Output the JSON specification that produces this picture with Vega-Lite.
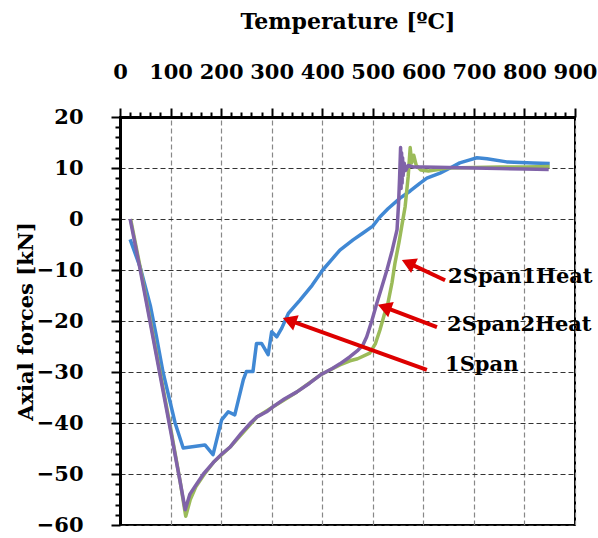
{
  "$schema": "https://vega.github.io/schema/vega-lite/v6.json",
  "width": 455,
  "height": 408,
  "autosize": "none",
  "padding": {"left": 120, "top": 117, "right": 23, "bottom": 13},
  "background": "white",
  "config": {
    "view": {"stroke": "black", "strokeWidth": 2},
    "font": "DejaVu Serif"
  },
  "datasets": {
    "curves": [
      {"series": "1Span", "t": 20, "f": -4},
      {"series": "1Span", "t": 40, "f": -9.5},
      {"series": "1Span", "t": 60, "f": -17},
      {"series": "1Span", "t": 72, "f": -23},
      {"series": "1Span", "t": 85, "f": -30},
      {"series": "1Span", "t": 97, "f": -35},
      {"series": "1Span", "t": 109, "f": -40},
      {"series": "1Span", "t": 125, "f": -44.9},
      {"series": "1Span", "t": 168, "f": -44.3},
      {"series": "1Span", "t": 184, "f": -46.2},
      {"series": "1Span", "t": 201, "f": -39.4},
      {"series": "1Span", "t": 214, "f": -37.8},
      {"series": "1Span", "t": 227, "f": -38.4},
      {"series": "1Span", "t": 244, "f": -31.5},
      {"series": "1Span", "t": 250, "f": -29.9},
      {"series": "1Span", "t": 263, "f": -29.9},
      {"series": "1Span", "t": 270, "f": -24.4},
      {"series": "1Span", "t": 280, "f": -24.4},
      {"series": "1Span", "t": 293, "f": -26.6},
      {"series": "1Span", "t": 300, "f": -22.1},
      {"series": "1Span", "t": 310, "f": -23.1},
      {"series": "1Span", "t": 320, "f": -21.4},
      {"series": "1Span", "t": 333, "f": -18.5},
      {"series": "1Span", "t": 356, "f": -15.9},
      {"series": "1Span", "t": 380, "f": -13},
      {"series": "1Span", "t": 401, "f": -10},
      {"series": "1Span", "t": 420, "f": -7.8},
      {"series": "1Span", "t": 435, "f": -6.1},
      {"series": "1Span", "t": 461, "f": -4.1},
      {"series": "1Span", "t": 480, "f": -2.8},
      {"series": "1Span", "t": 500, "f": -1.4},
      {"series": "1Span", "t": 514, "f": 0.4},
      {"series": "1Span", "t": 530, "f": 2},
      {"series": "1Span", "t": 554, "f": 4.1},
      {"series": "1Span", "t": 574, "f": 5.5},
      {"series": "1Span", "t": 593, "f": 7},
      {"series": "1Span", "t": 607, "f": 8},
      {"series": "1Span", "t": 633, "f": 9},
      {"series": "1Span", "t": 653, "f": 10},
      {"series": "1Span", "t": 672, "f": 11},
      {"series": "1Span", "t": 692, "f": 11.6},
      {"series": "1Span", "t": 706, "f": 12},
      {"series": "1Span", "t": 726, "f": 11.8},
      {"series": "1Span", "t": 765, "f": 11.2},
      {"series": "1Span", "t": 817, "f": 11},
      {"series": "1Span", "t": 850, "f": 10.9},

      {"series": "2Span1Heat", "t": 21, "f": 0},
      {"series": "2Span1Heat", "t": 41, "f": -10},
      {"series": "2Span1Heat", "t": 61, "f": -20.5},
      {"series": "2Span1Heat", "t": 81, "f": -31},
      {"series": "2Span1Heat", "t": 101, "f": -41.5},
      {"series": "2Span1Heat", "t": 119, "f": -51.5},
      {"series": "2Span1Heat", "t": 130, "f": -58.3},
      {"series": "2Span1Heat", "t": 139, "f": -55},
      {"series": "2Span1Heat", "t": 150, "f": -52.5},
      {"series": "2Span1Heat", "t": 167, "f": -50},
      {"series": "2Span1Heat", "t": 186, "f": -47.6},
      {"series": "2Span1Heat", "t": 220, "f": -44.5},
      {"series": "2Span1Heat", "t": 271, "f": -38.8},
      {"series": "2Span1Heat", "t": 303, "f": -36.8},
      {"series": "2Span1Heat", "t": 350, "f": -33.9},
      {"series": "2Span1Heat", "t": 396, "f": -30.6},
      {"series": "2Span1Heat", "t": 435, "f": -28.6},
      {"series": "2Span1Heat", "t": 455, "f": -27.8},
      {"series": "2Span1Heat", "t": 470, "f": -27.4},
      {"series": "2Span1Heat", "t": 494, "f": -26.3},
      {"series": "2Span1Heat", "t": 505, "f": -24.5},
      {"series": "2Span1Heat", "t": 514, "f": -21.8},
      {"series": "2Span1Heat", "t": 522, "f": -19},
      {"series": "2Span1Heat", "t": 530, "f": -16.5},
      {"series": "2Span1Heat", "t": 538, "f": -12.5},
      {"series": "2Span1Heat", "t": 544, "f": -8.6},
      {"series": "2Span1Heat", "t": 552, "f": -4.5},
      {"series": "2Span1Heat", "t": 558, "f": -1},
      {"series": "2Span1Heat", "t": 564, "f": 2.4},
      {"series": "2Span1Heat", "t": 570, "f": 8.3},
      {"series": "2Span1Heat", "t": 574, "f": 14},
      {"series": "2Span1Heat", "t": 577, "f": 11},
      {"series": "2Span1Heat", "t": 581, "f": 12.5},
      {"series": "2Span1Heat", "t": 586, "f": 10.5},
      {"series": "2Span1Heat", "t": 595, "f": 9.6},
      {"series": "2Span1Heat", "t": 610, "f": 9.4},
      {"series": "2Span1Heat", "t": 630, "f": 9.7},
      {"series": "2Span1Heat", "t": 646, "f": 10},
      {"series": "2Span1Heat", "t": 700, "f": 10.1},
      {"series": "2Span1Heat", "t": 750, "f": 10.2},
      {"series": "2Span1Heat", "t": 800, "f": 10.2},
      {"series": "2Span1Heat", "t": 850, "f": 10.3},

      {"series": "2Span2Heat", "t": 20, "f": 0},
      {"series": "2Span2Heat", "t": 40, "f": -10},
      {"series": "2Span2Heat", "t": 60, "f": -20.5},
      {"series": "2Span2Heat", "t": 80, "f": -31},
      {"series": "2Span2Heat", "t": 100, "f": -41.5},
      {"series": "2Span2Heat", "t": 118, "f": -51},
      {"series": "2Span2Heat", "t": 129, "f": -57},
      {"series": "2Span2Heat", "t": 138, "f": -54},
      {"series": "2Span2Heat", "t": 148, "f": -52.5},
      {"series": "2Span2Heat", "t": 165, "f": -50},
      {"series": "2Span2Heat", "t": 184, "f": -47.8},
      {"series": "2Span2Heat", "t": 200, "f": -46.2},
      {"series": "2Span2Heat", "t": 218, "f": -44.7},
      {"series": "2Span2Heat", "t": 240, "f": -42},
      {"series": "2Span2Heat", "t": 260, "f": -39.8},
      {"series": "2Span2Heat", "t": 271, "f": -38.8},
      {"series": "2Span2Heat", "t": 290, "f": -37.8},
      {"series": "2Span2Heat", "t": 303, "f": -36.8},
      {"series": "2Span2Heat", "t": 325, "f": -35.3},
      {"series": "2Span2Heat", "t": 350, "f": -33.9},
      {"series": "2Span2Heat", "t": 375, "f": -32.2},
      {"series": "2Span2Heat", "t": 396, "f": -30.6},
      {"series": "2Span2Heat", "t": 420, "f": -29.3},
      {"series": "2Span2Heat", "t": 435, "f": -28.4},
      {"series": "2Span2Heat", "t": 455, "f": -27},
      {"series": "2Span2Heat", "t": 471, "f": -25.7},
      {"series": "2Span2Heat", "t": 480, "f": -24.8},
      {"series": "2Span2Heat", "t": 488, "f": -23.1},
      {"series": "2Span2Heat", "t": 498, "f": -20},
      {"series": "2Span2Heat", "t": 508, "f": -16.5},
      {"series": "2Span2Heat", "t": 518, "f": -13.3},
      {"series": "2Span2Heat", "t": 528, "f": -10},
      {"series": "2Span2Heat", "t": 538, "f": -6.3},
      {"series": "2Span2Heat", "t": 548, "f": -2.1},
      {"series": "2Span2Heat", "t": 551, "f": 3},
      {"series": "2Span2Heat", "t": 553, "f": 8},
      {"series": "2Span2Heat", "t": 555, "f": 14},
      {"series": "2Span2Heat", "t": 556, "f": 6},
      {"series": "2Span2Heat", "t": 557, "f": 13},
      {"series": "2Span2Heat", "t": 558, "f": 7},
      {"series": "2Span2Heat", "t": 559, "f": 12},
      {"series": "2Span2Heat", "t": 560, "f": 8.5},
      {"series": "2Span2Heat", "t": 562, "f": 11},
      {"series": "2Span2Heat", "t": 565, "f": 9.5},
      {"series": "2Span2Heat", "t": 570, "f": 10.5},
      {"series": "2Span2Heat", "t": 580, "f": 10.2},
      {"series": "2Span2Heat", "t": 600, "f": 10.2},
      {"series": "2Span2Heat", "t": 650, "f": 10.1},
      {"series": "2Span2Heat", "t": 700, "f": 10},
      {"series": "2Span2Heat", "t": 750, "f": 9.9},
      {"series": "2Span2Heat", "t": 800, "f": 9.8},
      {"series": "2Span2Heat", "t": 848, "f": 9.7}
    ],
    "arrows": [
      {"label": "2Span1Heat", "tx": 643, "ty": -12, "hx": 570, "hy": -8.6, "lx": 649, "ly": -11.4},
      {"label": "2Span2Heat", "tx": 627, "ty": -21.2, "hx": 523, "hy": -17.3, "lx": 647, "ly": -20.8},
      {"label": "1Span", "tx": 607, "ty": -29.6, "hx": 335, "hy": -19.9, "lx": 643, "ly": -28.6}
    ]
  },
  "layer": [
    {
      "data": {"name": "curves"},
      "mark": {"type": "line", "strokeWidth": 3.5, "strokeJoin": "round"},
      "encoding": {
        "x": {
          "field": "t", "type": "quantitative",
          "scale": {"domain": [0, 900], "nice": false, "zero": false},
          "axis": {
            "orient": "top",
            "title": "Temperature [ºC]",
            "titleFont": "DejaVu Serif", "titleFontSize": 22, "titleFontWeight": "bold", "titleColor": "black",
            "titlePadding": 28,
            "tickCount": 200,
            "format": "d",
            "values": [0,20,40,60,80,100,120,140,160,180,200,220,240,260,280,300,320,340,360,380,400,420,440,460,480,500,520,540,560,580,600,620,640,660,680,700,720,740,760,780,800,820,840,860,880,900],
            "labelExpr": "datum.value % 100 === 0 ? datum.label : ''",
            "labelOverlap": false, "labelFlush": false, "labelBound": false,
            "labelFont": "DejaVu Serif", "labelFontSize": 21, "labelFontWeight": "bold", "labelColor": "black",
            "labelPadding": 26,
            "tickColor": "black", "tickWidth": 2,
            "tickSize": {"condition": {"test": "datum.value % 100 === 0", "value": 9}, "value": 5},
            "domainColor": "black", "domainWidth": 3,
            "grid": true, "gridColor": "#888888", "gridDash": [5, 3], "gridWidth": 1.2,
            "gridOpacity": {"condition": {"test": "datum.value % 100 === 0", "value": 1}, "value": 0}
          }
        },
        "y": {
          "field": "f", "type": "quantitative",
          "scale": {"domain": [-60, 20], "nice": false, "zero": false},
          "axis": {
            "orient": "left",
            "title": "Axial forces [kN]",
            "titleFont": "DejaVu Serif", "titleFontSize": 21, "titleFontWeight": "bold", "titleColor": "black",
            "titlePadding": 0,
            "tickCount": 200,
            "format": "d",
            "values": [-60,-58,-56,-54,-52,-50,-48,-46,-44,-42,-40,-38,-36,-34,-32,-30,-28,-26,-24,-22,-20,-18,-16,-14,-12,-10,-8,-6,-4,-2,0,2,4,6,8,10,12,14,16,18,20],
            "labelExpr": "datum.value % 10 === 0 ? datum.label : ''",
            "labelOverlap": false, "labelFlush": false, "labelBound": false,
            "labelFont": "DejaVu Serif", "labelFontSize": 21, "labelFontWeight": "bold", "labelColor": "black",
            "labelPadding": 28,
            "tickColor": "black", "tickWidth": 2,
            "tickSize": {"condition": {"test": "datum.value % 10 === 0", "value": 9}, "value": 5},
            "domainColor": "black", "domainWidth": 3,
            "grid": true, "gridColor": "#333333", "gridDash": [5, 3], "gridWidth": 1.2,
            "gridOpacity": {"condition": {"test": "datum.value % 10 === 0", "value": 1}, "value": 0}
          }
        },
        "color": {
          "field": "series", "type": "nominal",
          "scale": {"domain": ["1Span", "2Span1Heat", "2Span2Heat"], "range": ["#4088d4", "#9bbb59", "#8063a8"]},
          "legend": null
        }
      }
    },
    {
      "data": {"name": "arrows"},
      "mark": {"type": "rule", "color": "#dd0000", "strokeWidth": 4},
      "encoding": {
        "x": {"field": "tx", "type": "quantitative"},
        "y": {"field": "ty", "type": "quantitative"},
        "x2": {"field": "hx"},
        "y2": {"field": "hy"}
      }
    },
    {
      "data": {"name": "arrows"},
      "transform": [{"filter": "datum.label === '1Span'"}],
      "mark": {"type": "point", "shape": "triangle-up", "filled": true, "color": "#dd0000", "size": 260, "angle": 290, "opacity": 1},
      "encoding": {
        "x": {"field": "hx", "type": "quantitative"},
        "y": {"field": "hy", "type": "quantitative"}
      }
    },
    {
      "data": {"name": "arrows"},
      "transform": [{"filter": "datum.label === '2Span2Heat'"}],
      "mark": {"type": "point", "shape": "triangle-up", "filled": true, "color": "#dd0000", "size": 260, "angle": 290, "opacity": 1},
      "encoding": {
        "x": {"field": "hx", "type": "quantitative"},
        "y": {"field": "hy", "type": "quantitative"}
      }
    },
    {
      "data": {"name": "arrows"},
      "transform": [{"filter": "datum.label === '2Span1Heat'"}],
      "mark": {"type": "point", "shape": "triangle-up", "filled": true, "color": "#dd0000", "size": 260, "angle": 295, "opacity": 1},
      "encoding": {
        "x": {"field": "hx", "type": "quantitative"},
        "y": {"field": "hy", "type": "quantitative"}
      }
    },
    {
      "data": {"name": "arrows"},
      "mark": {"type": "text", "align": "left", "baseline": "middle", "font": "DejaVu Serif", "fontSize": 21, "fontWeight": "bold", "color": "black", "clip": false},
      "encoding": {
        "x": {"field": "lx", "type": "quantitative"},
        "y": {"field": "ly", "type": "quantitative"},
        "text": {"field": "label"}
      }
    }
  ]
}
